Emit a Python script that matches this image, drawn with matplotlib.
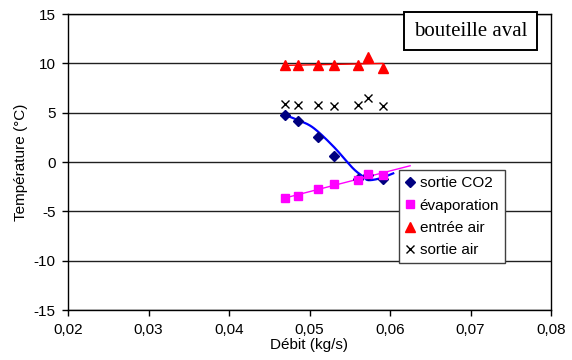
import numpy as np
import matplotlib
matplotlib.use("Agg")
import matplotlib.pyplot as plt
from matplotlib.ticker import FuncFormatter

plt.rcParams['font.family'] = ['Liberation Sans', 'DejaVu Sans']

# Mass flow (kg/s)
debit = [0.0470, 0.0486, 0.0510, 0.0531, 0.0560, 0.0573, 0.0591]

# Temperatures (°C)
sortie_co2 = [4.76, 4.15, 2.56, 0.61, -1.70, -1.30, -1.72]
evaporation = [-3.68, -3.41, -2.70, -2.26, -1.78, -1.22, -1.35]
entree_air = [9.80, 9.80, 9.80, 9.85, 9.85, 10.60, 9.55]
sortie_air = [5.85, 5.77, 5.77, 5.70, 5.77, 6.45, 5.70]

# CO2 outlet trend curve (kg/s, °C)
tendance_debit = [0.0470, 0.0486, 0.0505, 0.0530, 0.0554, 0.0567, 0.0573,
                  0.0588, 0.0604]
tendance_co2 = [4.76, 4.25, 3.45, 1.55, -0.64, -1.49, -1.84, -1.65, -1.15]

x_ticks = [0.02, 0.03, 0.04, 0.05, 0.06, 0.07, 0.08]
y_ticks = [-15, -10, -5, 0, 5, 10, 15]


def catmull_rom(xs, ys, n=24):
    """Smooth curve passing through every knot."""
    p = np.column_stack([xs, ys]).astype(float)
    p = np.vstack([2 * p[0] - p[1], p, 2 * p[-1] - p[-2]])
    t = np.linspace(0, 1, n)[:, None]
    out = []
    for i in range(1, len(p) - 2):
        p0, p1, p2, p3 = p[i - 1], p[i], p[i + 1], p[i + 2]
        seg = 0.5 * ((2 * p1) + (-p0 + p2) * t
                     + (2 * p0 - 5 * p1 + 4 * p2 - p3) * t ** 2
                     + (-p0 + 3 * p1 - 3 * p2 + p3) * t ** 3)
        out.append(seg if i == 1 else seg[1:])
    out = np.vstack(out)
    return out[:, 0], out[:, 1]


fig = plt.figure(figsize=(5.72, 3.60), dpi=100)
ax = fig.add_axes([68 / 572, 50 / 360, 483 / 572, 296 / 360])

x = np.array(debit)

# Trend lines
cx, cy = catmull_rom(tendance_debit, tendance_co2)
ax.plot(cx, cy, color='#0000FF', lw=1.6, zorder=2)
xc = np.linspace(min(debit), 0.0625, 100)
p_evap = np.polyfit(x, evaporation, 1)
ax.plot(xc, np.polyval(p_evap, xc), color='#FF00FF', lw=1.0, zorder=2)
xr = np.linspace(min(debit), max(debit), 50)
p_air = np.polyfit(x, entree_air, 1)
ax.plot(xr, np.polyval(p_air, xr), color='#FF0000', lw=1.0, zorder=2)

# Measurements
ax.plot(debit, sortie_co2, ls='none', marker='D', ms=5, color='#000080',
        label='sortie CO2', zorder=3)
ax.plot(debit, evaporation, ls='none', marker='s', ms=6, color='#FF00FF',
        label='évaporation', zorder=3)
ax.plot(debit, entree_air, ls='none', marker='^', ms=6.5, color='#FF0000',
        label='entrée air', zorder=3)
ax.plot(debit, sortie_air, ls='none', marker='x', ms=6, mew=1.0,
        color='black', label='sortie air', zorder=3)

ax.set_xlim(0.02, 0.08)
ax.set_ylim(-15, 15)
ax.set_xticks(x_ticks)
ax.set_yticks(y_ticks)
ax.xaxis.set_major_formatter(FuncFormatter(lambda v, _: f"{v:.2f}".replace('.', ',')))
ax.yaxis.set_major_formatter(FuncFormatter(lambda v, _: f"{v:g}"))
ax.tick_params(direction='out', length=4, width=1, labelsize=11, pad=5)
ax.grid(axis='y', color='#202020', lw=1.0, zorder=1)
for s in ax.spines.values():
    s.set_color('black')
    s.set_linewidth(1.0)

ax.set_xlabel('Débit (kg/s)', fontsize=11, labelpad=1)
ax.set_ylabel('Température (°C)', fontsize=11, labelpad=4)

leg = ax.legend(loc='upper left', bbox_to_anchor=(399 / 572, 1 - 170 / 360),
                bbox_transform=fig.transFigure, fontsize=11, frameon=True,
                fancybox=False, framealpha=1, edgecolor='#404040',
                handlelength=0.6, handletextpad=0.35, borderpad=0.4,
                labelspacing=0.55, borderaxespad=0)
leg.get_frame().set_linewidth(1.0)
leg.set_zorder(5)

fig.text(470.5 / 572, 1 - 31 / 360, 'bouteille aval', family='Liberation Serif',
         fontsize=15, ha='center', va='center',
         bbox=dict(boxstyle='square,pad=0.45', fc='white', ec='black', lw=1.4))

fig.savefig('out.png', dpi=100)
